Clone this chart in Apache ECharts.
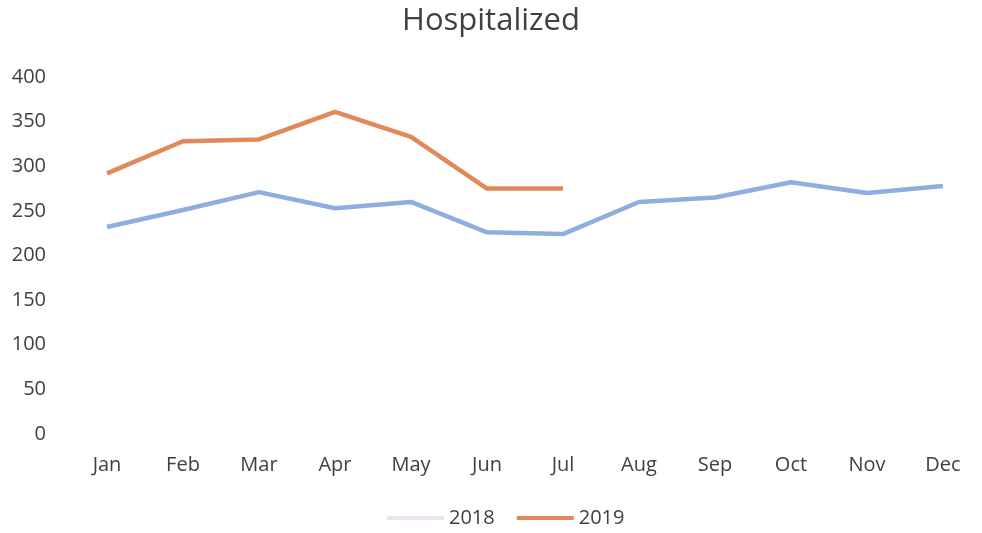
<!DOCTYPE html>
<html>
<head>
<meta charset="utf-8">
<script src="https://cdn.jsdelivr.net/npm/echarts@6/dist/echarts.min.js"></script>
<style>
  html, body { margin: 0; padding: 0; background: #fff; }
  #chart { width: 982px; height: 533px; }
</style>
</head>
<body>
<div id="chart"></div>
<script>
// Monthly hospitalized counts
const months = ['Jan', 'Feb', 'Mar', 'Apr', 'May', 'Jun', 'Jul', 'Aug', 'Sep', 'Oct', 'Nov', 'Dec'];
const values2018 = [232, 251, 271, 253, 260, 226, 224, 260, 265, 282, 270, 278];
const values2019 = [292, 328, 330, 361, 333, 275, 275];
const yTicks = { min: 0, max: 400, interval: 50 };

const textColor = '#404040';
const fontFamily = '"Open Sans", "Noto Sans", sans-serif';

const chart = echarts.init(document.getElementById('chart'));
chart.setOption({
  backgroundColor: '#ffffff',
  animation: false,
  title: {
    text: 'Hospitalized',
    left: 'center',
    top: 1,
    textStyle: { color: textColor, fontSize: 31, fontWeight: 'normal', fontFamily: fontFamily }
  },
  legend: {
    bottom: 0,
    left: 382,
    icon: 'rect',
    itemWidth: 57,
    itemHeight: 4,
    itemGap: 22,
    textStyle: { color: textColor, fontSize: 20, fontFamily: fontFamily },
    data: [
      { name: '2018', itemStyle: { color: '#eee2f2' } },
      { name: '2019', itemStyle: { color: '#e0895a' } }
    ]
  },
  grid: { left: 69, right: 1, top: 77, bottom: 99 },
  xAxis: {
    type: 'category',
    data: months,
    boundaryGap: true,
    axisLine: { show: false },
    axisTick: { show: false },
    axisLabel: { color: textColor, fontSize: 20, margin: 21, fontFamily: fontFamily }
  },
  yAxis: {
    type: 'value',
    min: yTicks.min,
    max: yTicks.max,
    interval: yTicks.interval,
    splitLine: { show: false },
    axisLine: { show: false },
    axisTick: { show: false },
    axisLabel: { color: textColor, fontSize: 20, margin: 23, fontFamily: fontFamily }
  },
  series: [
    {
      name: '2018',
      type: 'line',
      data: values2018,
      symbol: 'none',
      color: '#8eaee0',
      lineStyle: { color: '#8eaee0', width: 4.5 }
    },
    {
      name: '2019',
      type: 'line',
      data: values2019,
      symbol: 'none',
      color: '#e0895a',
      lineStyle: { color: '#e0895a', width: 4.5 }
    }
  ]
});
</script>
</body>
</html>
